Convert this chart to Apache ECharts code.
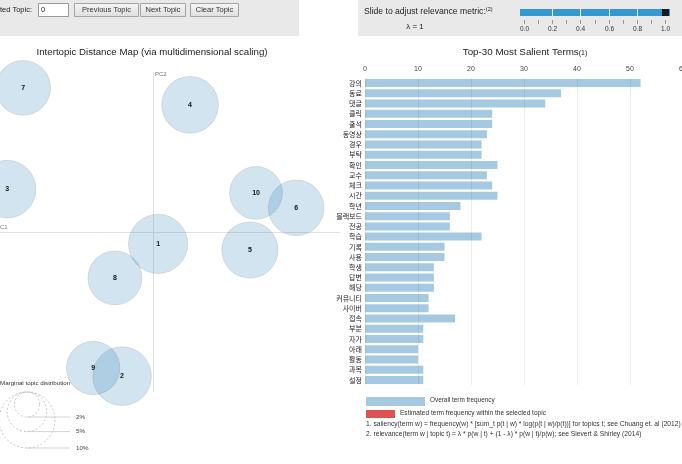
<!DOCTYPE html>
<html>
<head>
<meta charset="utf-8">
<script src="https://cdn.jsdelivr.net/npm/echarts@6/dist/echarts.min.js"></script>
<style>
html, body { margin: 0; padding: 0; background: #fff; }
#ldavis { width: 682px; height: 464px; }
</style>
</head>
<body>
<div id="ldavis"></div>
<script>
// topics: position on the two principal components and marginal distribution (%)
const topicIds = [1, 2, 3, 4, 5, 6, 7, 8, 9, 10];
const pc1 = [0.015, -0.091, -0.429, 0.109, 0.285, 0.421, -0.382, -0.112, -0.176, 0.303];
const pc2 = [-0.035, -0.424, 0.126, 0.374, -0.053, 0.071, 0.424, -0.135, -0.400, 0.115];
const topicFreq = [11.2, 11.0, 10.6, 10.3, 10.1, 9.9, 9.6, 9.3, 9.1, 8.9];
const legendFreq = [2, 5, 10];

// top-30 salient terms and overall frequency
const terms = ['강의', '동료', '댓글', '클릭', '출석', '동영상', '경우', '부탁', '확인', '교수',
    '체크', '시간', '학년', '블랙보드', '전공', '학습', '기록', '사용', '학생', '답변',
    '해당', '커뮤니티', '사이버', '접속', '부분', '자가', '아래', '활동', '과목', '설정'];
const termFreq = [52, 37, 34, 24, 24, 23, 22, 22, 25, 23,
    24, 25, 18, 16, 16, 22, 15, 15, 13, 13,
    13, 12, 12, 17, 11, 11, 10, 10, 11, 11];
const freqMax = 60;
const freqStep = 10;

// relevance slider
const lambdaTicks = [0, 0.1, 0.2, 0.3, 0.4, 0.5, 0.6, 0.7, 0.8, 0.9, 1.0];
const lambdaValue = 1;

const FONT = 'Liberation Sans, Arial, sans-serif';
const KR = 'Noto Sans CJK KR, sans-serif';
const BLUE = 'rgba(31,119,180,0.4)';

// radius (px) of a topic circle, 10% -> 28px
function radius(p) {
    return 28 * Math.sqrt(p / 10);
}

let ec = echarts.init(document.getElementById('ldavis'));

let g = [];
// top control panels
g.push({ type: 'rect', shape: { x: 0, y: 0, width: 299, height: 36 }, style: { fill: '#e9e9e9' } });
g.push({ type: 'rect', shape: { x: 358, y: 0, width: 324, height: 36 }, style: { fill: '#e9e9e9' } });
g.push({ type: 'text', x: 32, y: 10, style: { text: 'Selected Topic:', font: '7.5px ' + FONT, fill: '#222', align: 'right', verticalAlign: 'middle' } });
g.push({ type: 'rect', shape: { x: 38.5, y: 3.5, width: 30, height: 13 }, style: { fill: '#fff', stroke: '#9a9a9a', lineWidth: 1 } });
g.push({ type: 'text', x: 41, y: 10, style: { text: '0', font: '7.5px ' + FONT, fill: '#222', verticalAlign: 'middle' } });
const buttons = [['Previous Topic', 74, 64], ['Next Topic', 140, 45], ['Clear Topic', 190, 48]];
for (let b of buttons) {
    g.push({ type: 'rect', shape: { x: b[1] + 0.5, y: 3.5, width: b[2], height: 13 },
        style: { fill: new echarts.graphic.LinearGradient(0, 0, 0, 1, [{ offset: 0, color: '#f6f6f6' }, { offset: 1, color: '#dedede' }]), stroke: '#a5a5a5', lineWidth: 1 } });
    g.push({ type: 'text', x: b[1] + b[2] / 2 + 0.5, y: 10, style: { text: b[0], font: '7.5px ' + FONT, fill: '#333', align: 'center', verticalAlign: 'middle' } });
}

// slider
g.push({ type: 'text', x: 364, y: 12, style: { text: '{a|Slide to adjust relevance metric:}{b|(2)}', verticalAlign: 'middle',
    rich: { a: { font: '8.6px ' + FONT, fill: '#222' }, b: { font: '5.5px ' + FONT, fill: '#222', verticalAlign: 'top', padding: [0, 0, 6, 0] } } } });
g.push({ type: 'text', x: 415, y: 27, style: { text: 'λ = ' + lambdaValue, font: '8px ' + FONT, fill: '#222', align: 'center', verticalAlign: 'middle' } });
const lx = t => 524 + t * 141;
g.push({ type: 'rect', shape: { x: 520, y: 9, width: 150, height: 7 }, style: { fill: '#3598d0' } });
for (let t of lambdaTicks) {
    let x = Math.round(lx(t)) + 0.5;
    g.push({ type: 'line', shape: { x1: x, y1: 20, x2: x, y2: 24 }, style: { stroke: '#999', lineWidth: 1 } });
    if (Math.round(t * 10) % 2 === 0) {
        if (t > 0 && t < 1) {
            g.push({ type: 'line', shape: { x1: x, y1: 9, x2: x, y2: 16 }, style: { stroke: '#e8f3fa', lineWidth: 1 } });
        }
        g.push({ type: 'text', x: x, y: 29, style: { text: t.toFixed(1), font: '6.5px ' + FONT, fill: '#333', align: 'center', verticalAlign: 'middle' } });
    }
}
g.push({ type: 'rect', shape: { x: lx(lambdaValue) - 3, y: 9, width: 7, height: 7 }, style: { fill: '#1a1a1a' } });

// left panel texts
g.push({ type: 'text', x: 152, y: 52, style: { text: 'Intertopic Distance Map (via multidimensional scaling)', font: '9.7px ' + FONT, fill: '#222', align: 'center', verticalAlign: 'middle' } });
g.push({ type: 'text', x: 155, y: 74, style: { text: 'PC2', font: '6px ' + FONT, fill: '#777', verticalAlign: 'middle' } });
g.push({ type: 'text', x: -4, y: 227, style: { text: 'PC1', font: '6px ' + FONT, fill: '#777', verticalAlign: 'middle' } });
g.push({ type: 'text', x: 0, y: 383, style: { text: 'Marginal topic distribution', font: '6.2px ' + FONT, fill: '#333', verticalAlign: 'middle' } });
for (let p of legendFreq) {
    let r = radius(p);
    g.push({ type: 'circle', shape: { cx: 27, cy: 392 + r, r: r }, style: { fill: 'none', stroke: '#b8b8b8', lineWidth: 0.8, lineDash: [2, 2] } });
    g.push({ type: 'line', shape: { x1: 27, y1: 392 + 2 * r, x2: 70, y2: 392 + 2 * r }, style: { stroke: '#c8c8c8', lineWidth: 0.8 } });
    g.push({ type: 'text', x: 76, y: 392 + 2 * r, style: { text: p + '%', font: '6.2px ' + FONT, fill: '#444', verticalAlign: 'middle' } });
}

// right panel texts
g.push({ type: 'text', x: 525, y: 52, style: { text: '{a|Top-30 Most Salient Terms}{b|(1)}', align: 'center', verticalAlign: 'middle',
    rich: { a: { font: '9.8px ' + FONT, fill: '#222' }, b: { font: '7px ' + FONT, fill: '#222', padding: [3, 0, 0, 0] } } } });
g.push({ type: 'rect', shape: { x: 366, y: 397, width: 59, height: 9 }, style: { fill: BLUE } });
g.push({ type: 'text', x: 430, y: 400, style: { text: 'Overall term frequency', font: '6.4px ' + FONT, fill: '#333', verticalAlign: 'middle' } });
g.push({ type: 'rect', shape: { x: 366, y: 410, width: 29, height: 8 }, style: { fill: 'rgba(214,39,40,0.8)' } });
g.push({ type: 'text', x: 400, y: 413, style: { text: 'Estimated term frequency within the selected topic', font: '6.55px ' + FONT, fill: '#333', verticalAlign: 'middle' } });
g.push({ type: 'text', x: 366, y: 424, style: { text: '1. saliency(term w) = frequency(w) * [sum_t p(t | w) * log(p(t | w)/p(t))] for topics t; see Chuang et. al (2012)', font: '6.7px ' + FONT, fill: '#333', verticalAlign: 'middle' } });
g.push({ type: 'text', x: 366, y: 434, style: { text: '2. relevance(term w | topic t) = \u03bb * p(w | t) + (1 - \u03bb) * p(w | t)/p(w); see Sievert & Shirley (2014)', font: '6.7px ' + FONT, fill: '#333', verticalAlign: 'middle' } });

let option = {
    animation: false,
    backgroundColor: '#fff',
    grid: [
        { left: 0, top: 72, width: 340, height: 320, outerBoundsMode: 'none', containLabel: false },
        { left: 365, top: 78, width: 318, height: 307, outerBoundsMode: 'none', containLabel: false }
    ],
    xAxis: [
        { gridIndex: 0, type: 'value', min: -0.45, max: 0.55,
          axisLine: { show: true, onZero: true, lineStyle: { color: '#e2e2e2' } },
          axisTick: { show: false }, axisLabel: { show: false }, splitLine: { show: false } },
        { gridIndex: 1, type: 'value', position: 'top', min: 0, max: freqMax, interval: freqStep,
          axisLine: { show: false }, axisTick: { show: false },
          axisLabel: { fontSize: 7, color: '#444', margin: 5, fontFamily: FONT },
          splitLine: { show: true, lineStyle: { color: '#ececec' } } }
    ],
    yAxis: [
        { gridIndex: 0, type: 'value', min: -160 / 340, max: 160 / 340,
          axisLine: { show: true, onZero: true, lineStyle: { color: '#e2e2e2' } },
          axisTick: { show: false }, axisLabel: { show: false }, splitLine: { show: false } },
        { gridIndex: 1, type: 'category', inverse: true, data: terms,
          axisLine: { show: false }, axisTick: { show: false },
          axisLabel: { fontSize: 7, color: '#222', margin: 3, fontFamily: KR },
          splitLine: { show: false } }
    ],
    series: [
        {
            type: 'scatter', xAxisIndex: 0, yAxisIndex: 0, clip: false,
            data: topicIds.map((id, i) => [pc1[i], pc2[i], topicFreq[i], id]),
            symbolSize: v => 2 * radius(v[2]),
            itemStyle: { color: 'rgba(31,119,180,0.2)', borderColor: 'rgba(0,0,0,0.12)', borderWidth: 0.8, opacity: 1 },
            label: { show: true, position: 'inside', formatter: p => p.value[3], fontSize: 7, fontWeight: 'bold', color: '#111', fontFamily: FONT },
            emphasis: { disabled: true }
        },
        {
            type: 'bar', xAxisIndex: 1, yAxisIndex: 1, barWidth: 8,
            data: termFreq,
            itemStyle: { color: BLUE },
            emphasis: { disabled: true }
        }
    ],
    graphic: g
};
ec.setOption(option);
</script>
</body>
</html>
